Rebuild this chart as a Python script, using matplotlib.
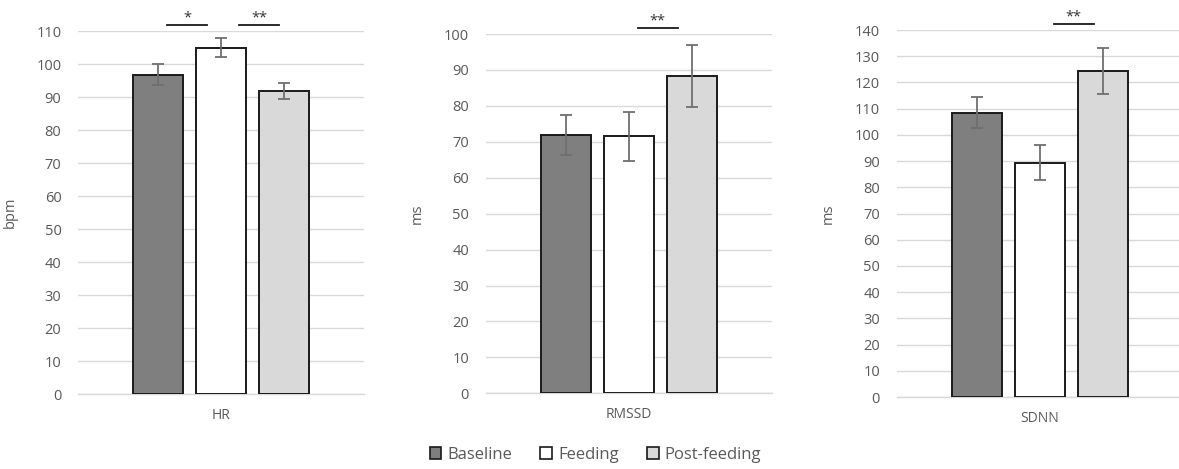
import matplotlib.pyplot as plt
from matplotlib.patches import Patch

plt.rcParams['font.family'] = ['Open Sans', 'DejaVu Sans']

# data
conditions = ['Baseline', 'Feeding', 'Post-feeding']
colors = ['#7f7f7f', '#ffffff', '#d9d9d9']

metrics = ['HR', 'RMSSD', 'SDNN']
units = ['bpm', 'ms', 'ms']
hr_mean = [96.7, 104.9, 91.8]
hr_err = [3.2, 2.9, 2.3]
rmssd_mean = [71.9, 71.5, 88.3]
rmssd_err = [5.7, 6.8, 8.7]
sdnn_mean = [108.5, 89.4, 124.3]
sdnn_err = [5.8, 6.7, 8.7]
ymax = [110, 100, 140]

means = [hr_mean, rmssd_mean, sdnn_mean]
errs = [hr_err, rmssd_err, sdnn_err]

# significance marks: (x0, x1, y, label) per panel
sig = [
    [(-0.86, -0.22, 111.8, '*'), (0.29, 0.92, 111.8, '**')],
    [(0.14, 0.78, 101.6, '**')],
    [(0.22, 0.86, 142.3, '**')],
]

# axes rectangles in figure fractions
rects = [
    (0.0662, 0.1599, 0.2426, 0.774),
    (0.4120, 0.1614, 0.2426, 0.766),
    (0.7606, 0.1535, 0.2426, 0.7825),
]

fig = plt.figure(figsize=(11.79, 4.69), dpi=100)
tc = '#595959'
x = [-1, 0, 1]

for i in range(3):
    ax = fig.add_axes(rects[i])
    ax.bar(x, means[i], width=0.79, color=colors, edgecolor='#1a1a1a',
           linewidth=1.4, zorder=3)
    ax.errorbar(x, means[i], yerr=errs[i], fmt='none', ecolor='#6f6f6f',
                elinewidth=1.3, capsize=4.5, capthick=1.3, zorder=4)
    ax.set_xlim(-2.27, 2.27)
    ax.set_ylim(0, ymax[i])
    ax.set_yticks(range(0, ymax[i] + 1, 10))
    ax.yaxis.grid(True, color='#d9d9d9', linewidth=1, zorder=0)
    ax.set_axisbelow(True)
    for s in ['top', 'right', 'left']:
        ax.spines[s].set_visible(False)
    ax.spines['bottom'].set_color('#d9d9d9')
    ax.spines['bottom'].set_linewidth(1)
    ax.tick_params(axis='y', length=0, pad=12, labelsize=10.5, labelcolor=tc)
    ax.set_xticks([0])
    ax.set_xticklabels([metrics[i]])
    ax.tick_params(axis='x', length=0, pad=10, labelsize=10, labelcolor=tc)
    ax.set_ylabel(units[i], fontsize=10.5, color=tc)
    ax.yaxis.set_label_coords(-0.212, 0.5)
    for x0, x1, y, lab in sig[i]:
        ax.plot([x0, x1], [y, y], color='#1a1a1a', linewidth=1.3, clip_on=False)
        ax.text((x0 + x1) / 2, y, lab, ha='center', va='bottom', fontsize=10.5,
                color='#333333')

handles = [Patch(facecolor=c, edgecolor='#1a1a1a', linewidth=1.2) for c in colors]
fig.legend(handles, conditions, loc='center', bbox_to_anchor=(0.505, 0.03),
           ncol=3, frameon=False, fontsize=12, handlelength=0.7, handleheight=0.7,
           handletextpad=0.35, columnspacing=1.7, labelcolor=tc)

fig.savefig('out.png', dpi=100)
